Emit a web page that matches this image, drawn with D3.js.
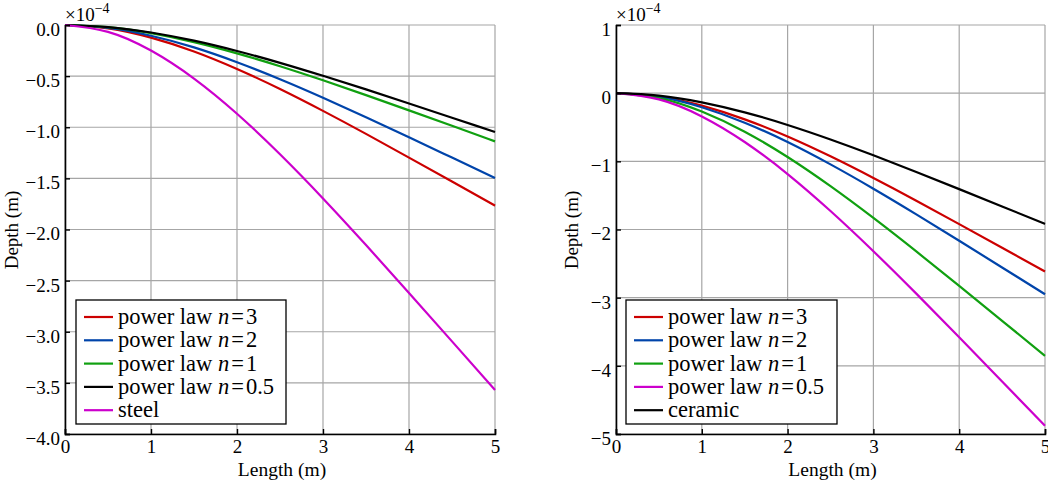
<!DOCTYPE html>
<html><head><meta charset="utf-8">
<script src="https://cdn.jsdelivr.net/npm/d3@7"></script>
<style>
body{margin:0;background:#fff}
svg{display:block}
svg text{font-family:'Liberation Serif','Times New Roman',Tinos,'Nimbus Roman','DejaVu Serif',serif !important;fill:#000}
</style>
</head><body>
<svg id="c" width="1048" height="483"></svg>
<script>
// ---- data (depth in units of 1e-4 m) ----
const lengthX = [0, 0.5, 1, 1.5, 2, 2.5, 3, 3.5, 4, 4.5, 5];
const xTicks = [0, 1, 2, 3, 4, 5];

const leftYTicks = [0, -0.5, -1, -1.5, -2, -2.5, -3, -3.5, -4];
const leftYTickLabels = ["0.0", "−0.5", "−1.0", "−1.5", "−2.0", "−2.5", "−3.0", "−3.5", "−4.0"];
const rightYTicks = [1, 0, -1, -2, -3, -4, -5];
const rightYTickLabels = ["1", "0", "−1", "−2", "−3", "−4", "−5"];

const leftNames = ["power law n=3", "power law n=2", "power law n=1", "power law n=0.5", "steel"];
const leftColors = ["#cc0000", "#0044aa", "#10a010", "#000000", "#cc00cc"];
const leftN3  = [0, -0.033, -0.124, -0.259, -0.430, -0.626, -0.840, -1.065, -1.297, -1.531, -1.767];
const leftN2  = [0, -0.028, -0.105, -0.219, -0.364, -0.530, -0.711, -0.902, -1.098, -1.297, -1.496];
const leftN1  = [0, -0.021, -0.080, -0.167, -0.277, -0.403, -0.541, -0.686, -0.835, -0.986, -1.138];
const leftN05 = [0, -0.020, -0.073, -0.153, -0.254, -0.370, -0.497, -0.630, -0.768, -0.907, -1.046];
const leftSteel = [0, -0.067, -0.250, -0.524, -0.868, -1.264, -1.696, -2.152, -2.620, -3.094, -3.570];

const rightNames = ["power law n=3", "power law n=2", "power law n=1", "power law n=0.5", "ceramic"];
const rightColors = ["#cc0000", "#0044aa", "#10a010", "#cc00cc", "#000000"];
const rightN3  = [0, -0.049, -0.183, -0.384, -0.636, -0.927, -1.244, -1.577, -1.921, -2.268, -2.617];
const rightN2  = [0, -0.055, -0.206, -0.433, -0.717, -1.045, -1.402, -1.778, -2.165, -2.557, -2.950];
const rightN1  = [0, -0.072, -0.269, -0.565, -0.937, -1.365, -1.831, -2.322, -2.828, -3.339, -3.853];
const rightN05 = [0, -0.091, -0.341, -0.716, -1.187, -1.729, -2.319, -2.941, -3.581, -4.229, -4.880];
const rightCeramic = [0, -0.036, -0.134, -0.281, -0.466, -0.679, -0.911, -1.156, -1.408, -1.662, -1.918];

const svg = d3.select("#c");

function panel(cfg) {
  const x = d3.scaleLinear().domain([0, 5]).range([cfg.x0, cfg.x1]);
  const y = d3.scaleLinear().domain(cfg.yDomain).range([434, 25]);
  const g = svg.append("g");

  // grid
  g.append("g").selectAll("line").data(xTicks).join("line")
    .attr("x1", d => x(d)).attr("x2", d => x(d)).attr("y1", y.range()[0]).attr("y2", y.range()[1])
    .attr("stroke", "#a6a6a6").attr("stroke-width", 1.2);
  g.append("g").selectAll("line").data(cfg.yTicks).join("line")
    .attr("x1", x(0)).attr("x2", x(5)).attr("y1", d => y(d)).attr("y2", d => y(d))
    .attr("stroke", "#a6a6a6").attr("stroke-width", 1.2);

  // curves
  const line = d3.line().x((d, i) => x(lengthX[i])).y(d => y(d)).curve(d3.curveNatural);
  cfg.series.forEach((s, i) => {
    g.append("path").attr("d", line(s)).attr("fill", "none")
      .attr("stroke", cfg.colors[i]).attr("stroke-width", 2.2);
  });

  // axes
  const xa = d3.axisBottom(x).tickValues(xTicks).tickSize(-5).tickPadding(4).tickFormat(d3.format("d"));
  const gx = g.append("g").attr("transform", `translate(0,${y.range()[0]})`).call(xa);
  gx.select(".domain").attr("stroke", "#000").attr("stroke-width", 1.6);
  gx.selectAll(".tick line").attr("stroke", "#000").attr("stroke-width", 1.4);
  gx.selectAll(".tick text").attr("font-size", 19).attr("dy", "0.78em");

  const ya = d3.axisLeft(y).tickValues(cfg.yTicks).tickSize(-5).tickPadding(5)
    .tickFormat((d, i) => cfg.yTickLabels[i]);
  const gy = g.append("g").attr("transform", `translate(${x(0)},0)`).call(ya);
  gy.select(".domain").attr("stroke", "#000").attr("stroke-width", 1.6);
  gy.selectAll(".tick line").attr("stroke", "#000").attr("stroke-width", 1.4);
  gy.selectAll(".tick text").attr("font-size", 19).attr("dy", "0.55em");

  // multiplier
  const m = g.append("text").attr("x", x(0)).attr("y", 21).attr("font-size", 19);
  m.append("tspan").text("×10");
  m.append("tspan").attr("dy", -8).attr("font-size", 14).text("−4");

  // axis labels
  g.append("text").attr("x", (cfg.x0 + cfg.x1) / 2 + 2).attr("y", 476).attr("text-anchor", "middle")
    .attr("font-size", 19.5).text("Length (m)");
  g.append("text").attr("transform", `translate(${cfg.ylabX},230) rotate(-90)`).attr("text-anchor", "middle")
    .attr("font-size", 19).text("Depth (m)");

  // legend
  const lg = g.append("g");
  lg.append("rect").attr("x", cfg.leg[0]).attr("y", 300).attr("width", cfg.leg[1]).attr("height", 124)
    .attr("fill", "#fff").attr("stroke", "#000").attr("stroke-width", 1.3);
  cfg.names.forEach((nm, i) => {
    const yy = 317 + i * 23.3;
    lg.append("line").attr("x1", cfg.leg[0] + 8).attr("x2", cfg.leg[0] + 37).attr("y1", yy).attr("y2", yy)
      .attr("stroke", cfg.colors[i]).attr("stroke-width", 2.2);
    const t = lg.append("text").attr("x", cfg.leg[0] + 42).attr("y", yy + 7).attr("font-size", 22.5);
    const k = nm.indexOf("n=");
    if (k >= 0) {
      t.append("tspan").text(nm.slice(0, k));
      t.append("tspan").attr("font-style", "italic").text("n");
      t.append("tspan").attr("dx", 2).text("=");
      t.append("tspan").attr("dx", 2).text(nm.slice(k + 2));
    } else {
      t.text(nm);
    }
  });
}

panel({x0: 65, x1: 495, yDomain: [-4, 0], yTicks: leftYTicks, yTickLabels: leftYTickLabels,
  series: [leftN3, leftN2, leftN1, leftN05, leftSteel], colors: leftColors, names: leftNames,
  ylabX: 18, leg: [76, 210]});
panel({x0: 616, x1: 1045, yDomain: [-5, 1], yTicks: rightYTicks, yTickLabels: rightYTickLabels,
  series: [rightN3, rightN2, rightN1, rightN05, rightCeramic], colors: rightColors, names: rightNames,
  ylabX: 578, leg: [626, 211]});
</script>
</body></html>
